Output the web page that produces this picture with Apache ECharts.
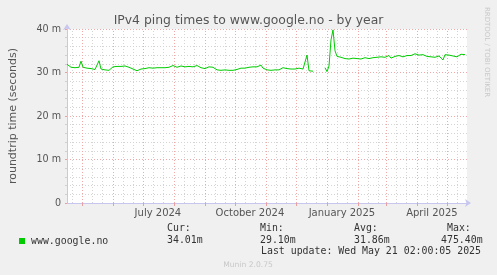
<!DOCTYPE html>
<html><head><meta charset="utf-8">
<script src="https://cdn.jsdelivr.net/npm/echarts@6/dist/echarts.min.js"></script>
<style>html,body{margin:0;padding:0;background:#f0f0f0;}#c{width:497px;height:275px;}</style>
</head><body><div id="c"></div>
<script>
// ---- data ----
const seriesName = 'www.google.no';
const periodStart = '2024-04-16T02:00:05Z';   // 400 days before last update
const periodDays = 400;
const dayStep = 2;                           // one sample every 2 days
const pingMs = [
 31.9,31.7,31.2,31.2,31.1,31.2,31.2,32.6,31.2,31.2,
 31.0,31.0,30.9,31.0,30.7,30.7,32.7,30.8,30.6,30.6,
 30.6,30.5,30.7,31.3,31.2,31.4,31.5,31.4,31.6,31.5,
 31.4,31.2,31.1,30.8,30.5,30.4,30.5,30.8,30.7,30.9,
 31.3,31.1,31.0,31.0,31.1,31.1,31.1,31.1,31.1,31.1,
 31.2,31.2,31.4,31.6,31.3,31.2,31.2,31.5,31.6,31.3,
 31.2,31.4,31.3,31.3,31.4,31.6,31.6,31.1,31.0,30.9,
 30.8,31.3,31.1,31.2,30.8,30.6,30.5,30.5,30.5,30.6,
 30.5,30.5,30.6,30.5,30.6,30.7,31.0,31.0,31.1,31.0,
 31.2,31.2,31.3,31.3,31.2,31.3,31.6,31.7,31.0,30.8,
 30.6,30.5,30.5,30.5,30.6,30.5,30.6,30.6,31.1,31.2,
 30.9,30.7,30.8,30.7,30.8,30.7,31.0,30.7,30.8,30.7,
 34.0,30.4,30.2,30.3,null,null,null,null,null,31.1,
 30.2,31.5,37.5,39.8,35.0,33.7,33.6,33.5,33.6,33.2,
 33.4,33.1,33.4,33.3,33.0,33.2,33.4,33.1,33.3,33.4,
 33.5,33.2,33.5,33.4,33.3,33.5,33.2,33.6,33.3,33.5,
 33.5,33.9,33.3,33.4,33.7,33.3,33.9,33.5,33.6,33.9,
 33.9,34.0,33.9,34.2,34.3,34.2,34.0,34.0,34.1,33.9,
 33.7,33.7,33.6,33.7,33.5,33.8,33.8,33.7,32.9,34.1,
 34.1,34.0,33.9,33.8,33.9,33.6,34.0,34.2,34.3,34.1
];
const monthStarts = ['2024-05-01','2024-06-01','2024-07-01','2024-08-01','2024-09-01','2024-10-01',
  '2024-11-01','2024-12-01','2025-01-01','2025-02-01','2025-03-01','2025-04-01','2025-05-01'];
const minorDates = ['2024-04-21','2024-05-11','2024-05-21','2024-06-11','2024-06-21','2024-07-11','2024-07-21',
  '2024-08-11','2024-08-21','2024-09-11','2024-09-21','2024-10-11','2024-10-21','2024-11-11','2024-11-21',
  '2024-12-11','2024-12-21','2025-01-11','2025-01-21','2025-02-11','2025-02-21','2025-03-11','2025-03-21',
  '2025-04-11','2025-04-21','2025-05-11'];
const xLabelDates = ['2024-07-16','2024-10-16','2025-01-16','2025-04-16'];
const xLabelTexts = ['July 2024','October 2024','January 2025','April 2025'];
const yTickValues = [0,10,20,30,40];
const yTickLabels = ['0','10 m','20 m','30 m','40 m'];
const statHeads = ['Cur:','Min:','Avg:','Max:'];
const statValues = ['34.01m','29.10m','31.86m','475.40m'];
const lastUpdate = 'Last update: Wed May 21 02:00:05 2025';

// ---- build ----
const t0 = Date.parse(periodStart);
const dayOf = s => (Date.parse(s + 'T00:00:00Z') - t0) / 86400000;
const points = pingMs.map((v, i) => [i * dayStep, v]);
const majorX = monthStarts.map(dayOf);
const minorX = minorDates.map(dayOf).filter(d => d > 0 && d < periodDays);
const labelX = xLabelDates.map(dayOf);

const mono = '"DejaVu Sans Mono", monospace';
const sans = '"DejaVu Sans", sans-serif';
const axisCol = '#c6c6ee';
const green = '#00cc00';

const chart = echarts.init(document.getElementById('c'), null, {renderer: 'canvas'});
const statX = [167, 260, 354, 447];
const statValX = [167, 260, 354, 441];
const graphics = [];
statHeads.forEach((h, i) => graphics.push({type: 'text', x: statX[i], y: 228,
  style: {text: h, font: '9.9px ' + mono, fill: '#333', align: 'left', verticalAlign: 'middle'}}));
statValues.forEach((h, i) => graphics.push({type: 'text', x: statValX[i], y: 240,
  style: {text: h, font: '9.9px ' + mono, fill: '#333', align: 'left', verticalAlign: 'middle'}}));
graphics.push({type: 'text', x: 261, y: 251,
  style: {text: lastUpdate, font: '9.9px ' + mono, fill: '#333', align: 'left', verticalAlign: 'middle'}});
graphics.push({type: 'text', x: 248, y: 265,
  style: {text: 'Munin 2.0.75', font: '7.6px ' + sans, fill: '#c8c8c8', align: 'center', verticalAlign: 'middle'}});
graphics.push({type: 'text', x: 487, y: 52, rotation: -Math.PI / 2,
  style: {text: 'RRDTOOL / TOBI OETIKER', font: '7px ' + sans, fill: '#c8c8c8', align: 'center', verticalAlign: 'middle'}});

chart.setOption({
  animation: false,
  backgroundColor: '#f0f0f0',
  title: {text: 'IPv4 ping times to www.google.no - by year', left: 'center', top: 10,
    textStyle: {fontFamily: sans, fontSize: 12.4, fontWeight: 'normal', color: '#555'}},
  legend: {left: 14, top: 231, icon: 'rect', itemWidth: 6, itemHeight: 6,
    data: [seriesName],
    textStyle: {fontFamily: mono, fontSize: 9.9, color: '#333', padding: [0, 0, 0, 1]}},
  grid: {left: 66, right: 30, top: 29, height: 174, containLabel: false,
    backgroundColor: '#ffffff', show: true, borderWidth: 0},
  xAxis: {type: 'value', min: 0, max: periodDays,
    axisLine: {show: true, lineStyle: {color: axisCol, width: 1}, symbol: ['none', 'arrow'], symbolSize: [6, 6], symbolOffset: [0, 4]},
    axisTick: {show: true, customValues: majorX, length: 3, inside: false, lineStyle: {color: '#e8a0a0'}},
    axisLabel: {customValues: labelX, margin: 5, color: '#555', fontFamily: sans, fontSize: 10,
      formatter: v => { const k = labelX.findIndex(x => Math.abs(x - v) < 0.01); return k >= 0 ? xLabelTexts[k] : ''; }},
    splitLine: {show: false}},
  yAxis: {type: 'value', min: 0, max: 40, interval: 10,
    name: 'roundtrip time (seconds)', nameLocation: 'middle', nameGap: 48,
    nameTextStyle: {fontFamily: sans, fontSize: 11, color: '#555'},
    axisLine: {show: true, lineStyle: {color: axisCol, width: 1}, symbol: ['none', 'arrow'], symbolSize: [6, 6], symbolOffset: [0, 5]},
    axisTick: {show: true, length: 2, lineStyle: {color: '#e8a0a0'}},
    minorTick: {show: true, splitNumber: 5, length: 2, lineStyle: {color: '#d0d0d0'}},
    axisLabel: {margin: 6, color: '#555', fontFamily: sans, fontSize: 9.6,
      formatter: v => yTickLabels[yTickValues.indexOf(v)]},
    splitLine: {show: true, lineStyle: {color: '#f0a8a8', type: [1, 2], width: 1}},
    minorSplitLine: {show: true, lineStyle: {color: '#d4d4d4', type: [1, 2], width: 1}}},
  graphic: graphics,
  series: [
    {type: 'line', name: '_grid', data: [], silent: true, z: 1,
      markLine: {silent: true, symbol: 'none', animation: false, label: {show: false},
        data: minorX.map(x => ({xAxis: x, lineStyle: {color: '#d4d4d4', type: [1, 2], width: 1}}))
          .concat(majorX.map(x => ({xAxis: x, lineStyle: {color: '#f0a8a8', type: [1, 2], width: 1}})))}},
    {type: 'line', name: seriesName, data: points, showSymbol: false, symbol: 'none',
      connectNulls: false, z: 5, color: green, lineStyle: {color: green, width: 1}}
  ]
});
</script></body></html>
